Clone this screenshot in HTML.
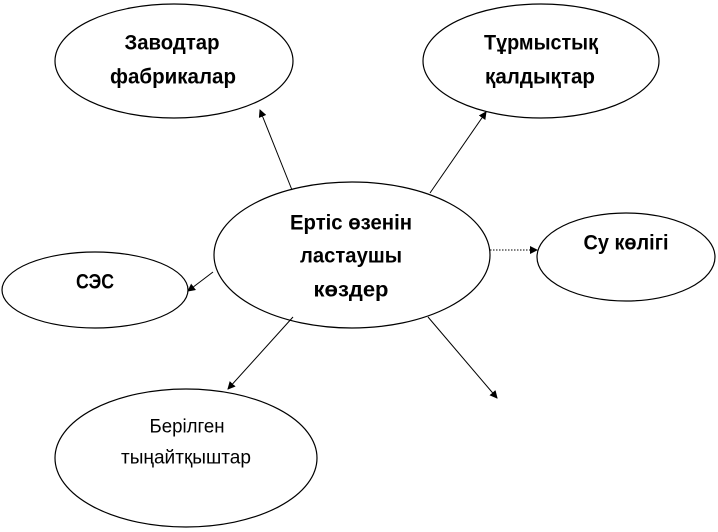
<!DOCTYPE html>
<html><head><meta charset="utf-8"><style>
html,body{margin:0;padding:0;background:#fff;}
svg{display:block;}
text{font-family:"Liberation Sans",sans-serif;text-anchor:middle;dominant-baseline:central;fill:#000;}
.b{font-weight:bold;font-size:21px;}
.n{font-size:19px;}
</style></head><body>
<svg width="718" height="532" viewBox="0 0 718 532" xmlns="http://www.w3.org/2000/svg">
<defs><marker id="a" markerWidth="8" markerHeight="8" refX="7" refY="4" orient="auto" markerUnits="userSpaceOnUse"><path d="M0,0 L8,4 L0,8 z" fill="#000"/></marker></defs>
<g fill="#fff" stroke="#000" stroke-width="1.2">
<ellipse cx="174" cy="61" rx="119" ry="57"/>
<ellipse cx="541" cy="61" rx="118" ry="57"/>
<ellipse cx="352" cy="255" rx="138" ry="73"/>
<ellipse cx="626" cy="257" rx="89" ry="44"/>
<ellipse cx="95" cy="290" rx="93" ry="38"/>
<ellipse cx="186" cy="458" rx="131" ry="69"/>
</g>
<g stroke="#000" stroke-width="1" fill="none" marker-end="url(#a)">
<line x1="292" y1="190" x2="260" y2="110"/>
<line x1="430" y1="193" x2="486" y2="112"/>
<line x1="490" y1="250" x2="537" y2="250" stroke-dasharray="1.5,1.5"/>
<line x1="213" y1="272" x2="188" y2="291"/>
<line x1="293" y1="317" x2="228" y2="389"/>
<line x1="428" y1="317" x2="497" y2="398"/>
</g>
<text class="b" x="172" y="43" textLength="95" lengthAdjust="spacingAndGlyphs">Заводтар</text>
<text class="b" x="173" y="77" textLength="126" lengthAdjust="spacingAndGlyphs">фабрикалар</text>
<text class="b" x="541" y="43" textLength="114" lengthAdjust="spacingAndGlyphs">Тұрмыстық</text>
<text class="b" x="540" y="77" textLength="110" lengthAdjust="spacingAndGlyphs">қалдықтар</text>
<text class="b" x="351" y="223" textLength="122" lengthAdjust="spacingAndGlyphs">Ертіс өзенін</text>
<text class="b" x="351" y="256" textLength="102" lengthAdjust="spacingAndGlyphs">ластаушы</text>
<text class="b" x="351" y="290" textLength="75" lengthAdjust="spacingAndGlyphs">көздер</text>
<text class="b" x="626" y="243" textLength="85" lengthAdjust="spacingAndGlyphs">Су көлігі</text>
<text class="b" x="95" y="282" textLength="38" lengthAdjust="spacingAndGlyphs">СЭС</text>
<text class="n" x="187" y="427" textLength="75" lengthAdjust="spacingAndGlyphs">Берілген</text>
<text class="n" x="186" y="458" textLength="130" lengthAdjust="spacingAndGlyphs">тыңайтқыштар</text>
</svg>
</body></html>
